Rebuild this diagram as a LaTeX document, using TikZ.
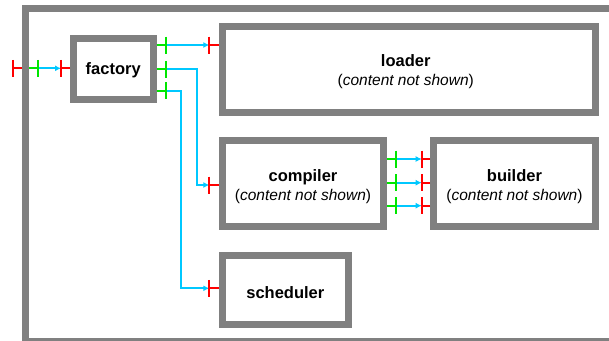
\documentclass[tikz,border=0pt]{standalone}
\usepackage{fontspec}
\setmainfont{Liberation Sans}
\usetikzlibrary{arrows.meta}
\definecolor{boxgray}{RGB}{128,128,128}
\definecolor{flowcyan}{RGB}{0,200,255}
\definecolor{outgreen}{RGB}{0,230,0}
\definecolor{inred}{RGB}{255,0,0}
\tikzset{
  blk/.style={draw=boxgray, line width=7pt, fill=white, inner sep=0pt},
  lbl/.style={inner sep=0pt, align=center, font=\bfseries\fontsize{16.5}{18}\selectfont},
  flow/.style={draw=flowcyan, line width=2pt, -{Latex[length=6pt,width=6pt]}},
  outport/.style={draw=outgreen, line width=2pt},
  inport/.style={draw=inred, line width=2pt},
}
\newcommand{\subt}{\\[1pt]{\normalfont\fontsize{15.5}{17}\selectfont (\textit{content not shown})}}
\begin{document}
\begin{tikzpicture}[x=1pt,y=-1pt]
\useasboundingbox (0,0) rectangle (609,340);
% outer frame
\draw[boxgray, line width=7pt] (25.5,8.3) rectangle (660,341.2);
% boxes
\node[blk, minimum width=79.5pt, minimum height=61.5pt] (factory) at (113.25,68.75) {};
\node[blk, minimum width=372.5pt, minimum height=85.5pt] (loader) at (408.75,69.25) {};
\node[blk, minimum width=161pt, minimum height=85.7pt] (compiler) at (303,183.65) {};
\node[blk, minimum width=161.5pt, minimum height=85.7pt] (builder) at (514.45,183.65) {};
\node[blk, minimum width=125.7pt, minimum height=68.9pt] (scheduler) at (285.35,290.25) {};
% labels
\node[lbl] (factoryT) at ([yshift=-1pt]factory.center) {factory};
\node[lbl] (loaderT) at ([xshift=-3pt,yshift=-2.5pt]loader.center) {loader\subt};
\node[lbl] (compilerT) at ([yshift=-2.5pt]compiler.center) {compiler\subt};
\node[lbl] (builderT) at ([yshift=-2.5pt]builder.center) {builder\subt};
\node[lbl] (schedulerT) at ([yshift=-2.5pt]scheduler.center) {scheduler};
% port coordinates
\coordinate (pin) at (12.7,68.3);
\coordinate (pinE) at (22,68.3);
\coordinate (gfS) at (29,68.3);
\coordinate (gf) at (37.7,68.3);
\coordinate (rf) at (61,68.3);
\coordinate (rfE) at (70,68.3);
\foreach \n/\y in {1/45,2/69.3,3/90.7}{
  \coordinate (fo\n S) at (156.5,\y);
  \coordinate (fo\n) at (165.7,\y);
}
\coordinate (li) at (209.3,45);   \coordinate (liE) at (219,45);
\coordinate (ci) at (209.3,185);  \coordinate (ciE) at (219,185);
\coordinate (si) at (209.3,288.3);\coordinate (siE) at (219,288.3);
\foreach \n/\y in {1/159,2/182.7,3/205.7}{
  \coordinate (co\n S) at (387,\y);
  \coordinate (co\n) at (396,\y);
  \coordinate (bi\n) at (421.7,\y);
  \coordinate (bi\n E) at (430,\y);
}
% flows
\draw[flow] (gf) -- (rf);
\draw[flow] (fo1) -- (li);
\draw[flow] (fo2) -- (196.7,69.3) |- (ci);
\draw[flow] (fo3) -- (180.7,90.7) |- (si);
\foreach \n in {1,2,3}{ \draw[flow] (co\n) -- (bi\n); }
% ports
\newcommand{\outp}[2]{\draw[outport] (#1) -- (#2) ++(0,-8.5) -- ++(0,17);}
\newcommand{\inp}[2]{\draw[inport] (#2) -- (#1) ++(0,-8.5) -- ++(0,17);}
\inp{pin}{pinE}
\outp{gfS}{gf}
\inp{rf}{rfE}
\foreach \n in {1,2,3}{ \outp{fo\n S}{fo\n} }
\inp{li}{liE}
\inp{ci}{ciE}
\inp{si}{siE}
\foreach \n in {1,2,3}{ \outp{co\n S}{co\n} \inp{bi\n}{bi\n E} }
\end{tikzpicture}
\end{document}
